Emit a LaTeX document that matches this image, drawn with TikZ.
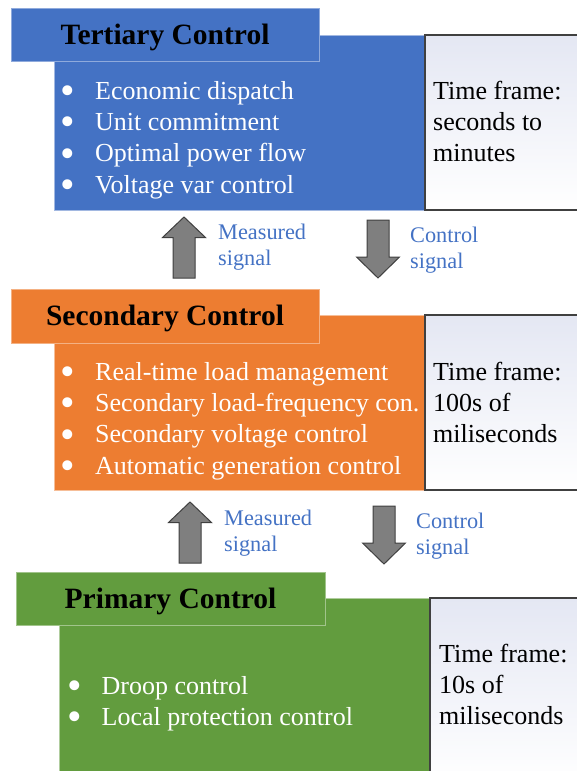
\documentclass[tikz,border=0pt]{standalone}
\usepackage{fontspec}
\usepackage{graphicx}
\setmainfont{Liberation Serif}
\definecolor{cblue}{HTML}{4472C4}
\definecolor{corange}{HTML}{ED7D31}
\definecolor{cgreen}{HTML}{629C3E}
\definecolor{cgray}{HTML}{7F7F7F}
\definecolor{cdark}{HTML}{404040}
\definecolor{clav}{HTML}{E4E7F3}
\newcommand{\bitem}[1]{\makebox[32pt][l]{\hspace{-2.5pt}\raisebox{-5.5pt}{\scalebox{1.6}{\textbullet}}}#1}
\newcommand{\toplines}[1]{\begin{tabular}[t]{@{}l@{}}#1\end{tabular}}
\tikzset{
  titlebox/.style={anchor=north west, inner sep=0pt, outer sep=0pt, fill=#1, draw=#1!60!white, line width=0.8pt},
  bodybox/.style={anchor=north west, inner sep=0pt, outer sep=0pt, fill=#1, draw=#1!50!white, line width=0.6pt},
  timebox/.style={anchor=north west, inner sep=0pt, outer sep=0pt, draw=cdark, line width=1.3pt, top color=clav, bottom color=white},
  titletext/.style={font=\fontsize{29.5}{35}\selectfont\bfseries, anchor=base, inner sep=0pt},
  listtext/.style={font=\fontsize{26}{31.4}\selectfont, text=white, anchor=base west, inner sep=0pt},
  timetext/.style={font=\fontsize{26}{31.4}\selectfont, anchor=base west, inner sep=0pt},
  sigtext/.style={font=\fontsize{22.3}{26.5}\selectfont, text=cblue, anchor=base west, inner sep=0pt},
  blockarrow/.style={fill=cgray, draw=cdark, line width=1pt, line join=miter},
  uparr/.pic={\draw[blockarrow] (0,0) -- (21.5,20.5) -- (11,20.5) -- (11,61) -- (-11,61) -- (-11,20.5) -- (-21.5,20.5) -- cycle;},
  downarr/.pic={\draw[blockarrow] (-11,0) -- (11,0) -- (11,37) -- (21.5,37) -- (0,58) -- (-21.5,37) -- (-11,37) -- cycle;}
}
\begin{document}
\begin{tikzpicture}[x=1pt,y=-1pt]
\useasboundingbox (0,0) rectangle (577,771);
% ---------- Tertiary ----------
\node[bodybox=cblue, minimum width=371pt, minimum height=175pt] (tbody) at (54,35) {};
\node[timebox, minimum width=160pt, minimum height=175pt] (ttime) at (425,35) {};
\node[titlebox=cblue, minimum width=308pt, minimum height=53pt] (ttitle) at (11,8) {};
\node[titletext] (ttitletext) at (165,44) {Tertiary Control};
\node[listtext] (tlist) at (63,99) {\toplines{\bitem{Economic dispatch}\\\bitem{Unit commitment}\\\bitem{Optimal power flow}\\\bitem{Voltage var control}}};
\node[timetext] (ttimetext) at (433,99) {\toplines{Time frame:\\seconds to\\minutes}};
% ---------- Secondary ----------
\node[bodybox=corange, minimum width=371pt, minimum height=175pt] (sbody) at (54,315) {};
\node[timebox, minimum width=160pt, minimum height=175pt] (stime) at (425,315) {};
\node[titlebox=corange, minimum width=308pt, minimum height=54pt] (stitle) at (11,289) {};
\node[titletext] (stitletext) at (165,325) {Secondary Control};
\node[listtext] (slist) at (63,380) {\toplines{\bitem{Real-time load management}\\\bitem{Secondary load-frequency con.}\\\bitem{Secondary voltage control}\\\bitem{Automatic generation control}}};
\node[timetext] (stimetext) at (433,380) {\toplines{Time frame:\\100s of\\miliseconds}};
% ---------- Primary ----------
\node[bodybox=cgreen, minimum width=371pt, minimum height=185pt] (pbody) at (59,598) {};
\node[timebox, minimum width=155pt, minimum height=185pt] (ptime) at (430,598) {};
\node[titlebox=cgreen, minimum width=309pt, minimum height=53pt] (ptitle) at (16,572) {};
\node[titletext] (ptitletext) at (170.5,608) {Primary Control};
\node[listtext] (plist) at (69.5,694) {\toplines{\bitem{Droop control}\\\bitem{Local protection control}}};
\node[timetext] (ptimetext) at (439,662) {\toplines{Time frame:\\10s of\\miliseconds}};
% ---------- Arrows ----------
\pic (upA) at (184,217) {uparr};
\pic (downA) at (378,220) {downarr};
\pic (upB) at (190,502) {uparr};
\pic (downB) at (384,506) {downarr};
\node[sigtext] (measA) at (218,239) {\toplines{Measured\\signal}};
\node[sigtext] (ctrlA) at (410,242) {\toplines{Control\\signal}};
\node[sigtext] (measB) at (224,525) {\toplines{Measured\\signal}};
\node[sigtext] (ctrlB) at (416,528) {\toplines{Control\\signal}};
\end{tikzpicture}
\end{document}
